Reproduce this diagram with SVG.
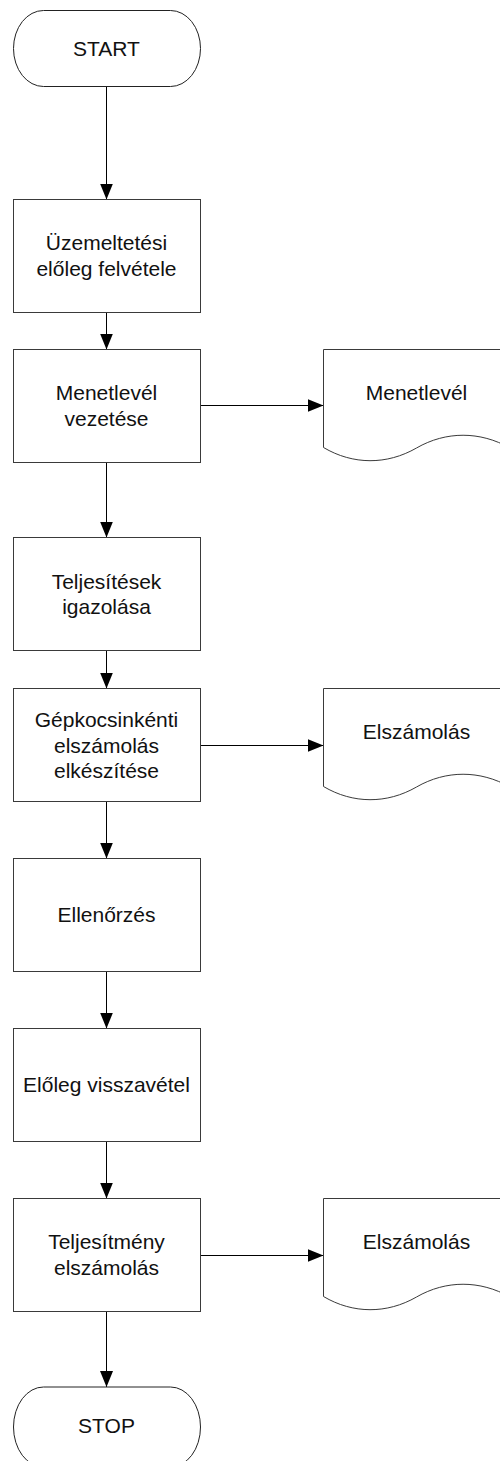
<svg xmlns="http://www.w3.org/2000/svg" width="500" height="1461" viewBox="0 0 500 1461">
  <defs>
    <marker id="arrow" markerWidth="16" markerHeight="13" refX="16" refY="6.5" orient="auto" markerUnits="userSpaceOnUse">
      <path d="M0,0 L16,6.5 L0,13 z" fill="#000"/>
    </marker>
    <style>
      .shape { fill: #fff; stroke: #3a3a3a; stroke-width: 1; }
      .term { fill: #fff; stroke: #222; stroke-width: 1; }
      .link { fill: none; stroke: #000; stroke-width: 1; marker-end: url(#arrow); }
      text { font-family: "Liberation Sans", Arial, sans-serif; font-size: 21px; fill: #111; text-anchor: middle; }
    </style>
  </defs>

  <rect width="500" height="1461" fill="#fff"/>

  <!-- connectors -->
  <g id="connectors">
    <line class="link" x1="106.5" y1="87" x2="106.5" y2="199.5"/>
    <line class="link" x1="106.5" y1="312.5" x2="106.5" y2="349.5"/>
    <line class="link" x1="106.5" y1="462.5" x2="106.5" y2="537.5"/>
    <line class="link" x1="106.5" y1="650.5" x2="106.5" y2="688.5"/>
    <line class="link" x1="106.5" y1="801.5" x2="106.5" y2="858.5"/>
    <line class="link" x1="106.5" y1="971.5" x2="106.5" y2="1028.5"/>
    <line class="link" x1="106.5" y1="1141.5" x2="106.5" y2="1198.5"/>
    <line class="link" x1="106.5" y1="1311.5" x2="106.5" y2="1387"/>
    <line class="link" x1="200" y1="405.5" x2="323.5" y2="405.5"/>
    <line class="link" x1="200" y1="745.5" x2="323.5" y2="745.5"/>
    <line class="link" x1="200" y1="1255.5" x2="323.5" y2="1255.5"/>
  </g>

  <!-- start -->
  <g id="start">
    <rect class="term" x="13.5" y="10.5" width="187" height="76" rx="30" ry="38"/>
    <text x="106.5" y="56">START</text>
  </g>

  <g id="uzemeltetesi-eloleg">
    <rect class="shape" x="13.5" y="199.5" width="187" height="113"/>
    <text x="106.5" y="250">Üzemeltetési</text>
    <text x="106.5" y="275.5">előleg felvétele</text>
  </g>

  <g id="menetlevel-vezetese">
    <rect class="shape" x="13.5" y="349.5" width="187" height="113"/>
    <text x="106.5" y="400">Menetlevél</text>
    <text x="106.5" y="425.5">vezetése</text>
  </g>

  <g id="doc-menetlevel">
    <path class="shape" d="M323.5,349.5 H510 V448 C480,431 446,431 416.5,448 C387,465 353,465 323.5,447.5 Z"/>
    <text x="416.5" y="400">Menetlevél</text>
  </g>

  <g id="teljesitesek-igazolasa">
    <rect class="shape" x="13.5" y="537.5" width="187" height="113"/>
    <text x="106.5" y="588.5">Teljesítések</text>
    <text x="106.5" y="614">igazolása</text>
  </g>

  <g id="gepkocsinkenti-elszamolas">
    <rect class="shape" x="13.5" y="688.5" width="187" height="113"/>
    <text x="106.5" y="727">Gépkocsinkénti</text>
    <text x="106.5" y="752.5">elszámolás</text>
    <text x="106.5" y="778">elkészítése</text>
  </g>

  <g id="doc-elszamolas-1">
    <path class="shape" d="M323.5,688.5 H510 V787 C480,770 446,770 416.5,787 C387,804 353,804 323.5,786.5 Z"/>
    <text x="416.5" y="739">Elszámolás</text>
  </g>

  <g id="ellenorzes">
    <rect class="shape" x="13.5" y="858.5" width="187" height="113"/>
    <text x="106.5" y="922">Ellenőrzés</text>
  </g>

  <g id="eloleg-visszavetel">
    <rect class="shape" x="13.5" y="1028.5" width="187" height="113"/>
    <text x="106.5" y="1092">Előleg visszavétel</text>
  </g>

  <g id="teljesitmeny-elszamolas">
    <rect class="shape" x="13.5" y="1198.5" width="187" height="113"/>
    <text x="106.5" y="1249">Teljesítmény</text>
    <text x="106.5" y="1274.5">elszámolás</text>
  </g>

  <g id="doc-elszamolas-2">
    <path class="shape" d="M323.5,1198.5 H510 V1297 C480,1280 446,1280 416.5,1297 C387,1314 353,1314 323.5,1296.5 Z"/>
    <text x="416.5" y="1249">Elszámolás</text>
  </g>

  <!-- stop -->
  <g id="stop">
    <rect class="term" x="13.5" y="1387" width="187" height="80" rx="30" ry="40"/>
    <text x="106.5" y="1433">STOP</text>
  </g>
</svg>
